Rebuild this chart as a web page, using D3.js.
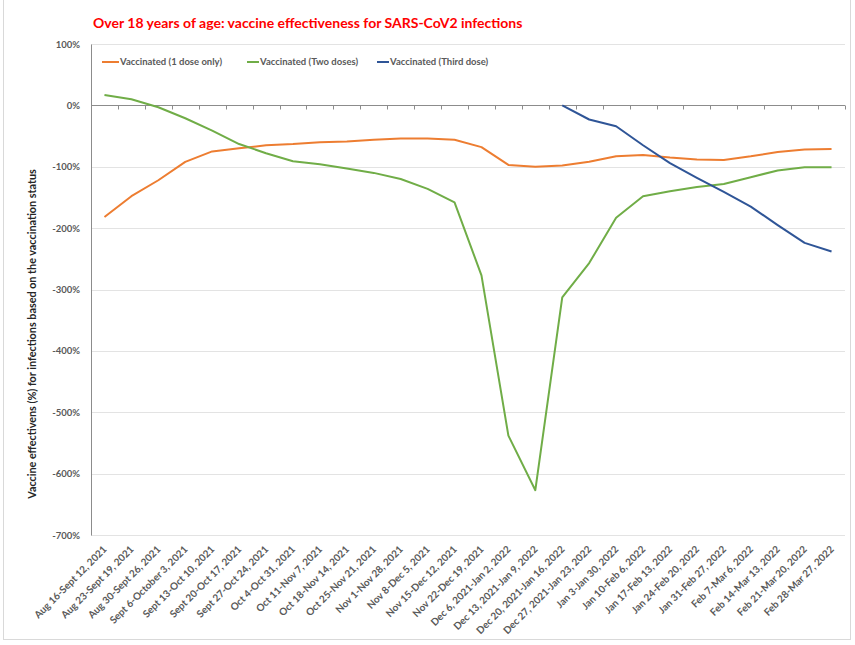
<!DOCTYPE html>
<html>
<head>
<meta charset="utf-8">
<script src="https://cdn.jsdelivr.net/npm/d3@7"></script>
<style>
  body { margin: 0; background: #fff; }
  svg { display: block; font-family: Lato, "Open Sans", sans-serif; }
</style>
</head>
<body>
<svg id="chart" width="855" height="645"></svg>
<script>
var width = 855;
var height = 645;

// weekly periods
var periods = [
  "Aug 16-Sept 12, 2021", "Aug 23-Sept 19, 2021", "Aug 30-Sept 26, 2021",
  "Sept 6-October 3, 2021", "Sept 13-Oct 10, 2021", "Sept 20-Oct 17, 2021",
  "Sept 27-Oct 24, 2021", "Oct 4-Oct 31, 2021", "Oct 11-Nov 7, 2021",
  "Oct 18-Nov 14, 2021", "Oct 25-Nov 21, 2021", "Nov 1-Nov 28, 2021",
  "Nov 8-Dec 5, 2021", "Nov 15-Dec 12, 2021", "Nov 22-Dec 19, 2021",
  "Dec 6, 2021-Jan 2, 2022", "Dec 13, 2021-Jan 9, 2022", "Dec 20, 2021-Jan 16, 2022",
  "Dec 27, 2021-Jan 23, 2022", "Jan 3-Jan 30, 2022", "Jan 10-Feb 6, 2022",
  "Jan 17-Feb 13, 2022", "Jan 24-Feb 20, 2022", "Jan 31-Feb 27, 2022",
  "Feb 7-Mar 6, 2022", "Feb 14-Mar 13, 2022", "Feb 21-Mar 20, 2022",
  "Feb 28-Mar 27, 2022"
];

// vaccine effectiveness, %
var oneDose = [-182, -148, -122, -92, -75, -70, -65, -63, -60, -59, -56, -54, -54, -56,
  -68, -97, -100, -98, -92, -83, -81, -85, -88, -89, -83, -76, -72, -71];
var twoDoses = [17, 10, -3, -21, -41, -63, -78, -91, -96, -103, -110, -120, -136, -158,
  -277, -538, -627, -313, -257, -183, -148, -140, -133, -128, -117, -106, -101, -101];
var thirdDose = [null, null, null, null, null, null, null, null, null, null, null, null, null, null,
  null, null, null, 0, -23, -34, -65, -94, -118, -141, -165, -195, -224, -238];

var yTicks = [100, 0, -100, -200, -300, -400, -500, -600, -700];

var seriesNames = ["Vaccinated (1 dose only)", "Vaccinated (Two doses)", "Vaccinated (Third dose)"];
var seriesColors = ["#ED7D31", "#70AD47", "#2F5597"];

var svg = d3.select("#chart");

var plotLeft = 91, plotRight = 845, plotTop = 44, plotBottom = 535;

var x = d3.scaleBand()
  .domain(periods)
  .range([plotLeft, plotRight])
  .padding(0);

var y = d3.scaleLinear()
  .domain([-700, 100])
  .range([plotBottom, plotTop]);

// outer border
svg.append("rect")
  .attr("x", 3.5).attr("y", -2)
  .attr("width", 847).attr("height", 641.5)
  .attr("fill", "none")
  .attr("stroke", "#d9d9d9");

// title
svg.append("text")
  .attr("x", 93).attr("y", 28)
  .attr("fill", "#FF0000")
  .style("font-size", "14px")
  .style("font-weight", "bold")
  .text("Over 18 years of age: vaccine effectiveness for SARS-CoV2 infections");

// grid
svg.append("g")
  .selectAll("line")
  .data(yTicks)
  .enter().append("line")
  .attr("x1", plotLeft).attr("x2", plotRight)
  .attr("y1", function(d) { return Math.round(y(d)) + 0.5; })
  .attr("y2", function(d) { return Math.round(y(d)) + 0.5; })
  .attr("stroke", "#e3e3e3")
  .attr("stroke-width", 1);

// y axis
var yAxis = svg.append("g")
  .attr("transform", "translate(" + plotLeft + ",0)")
  .call(d3.axisLeft(y).tickValues(yTicks).tickSize(0).tickPadding(11)
    .tickFormat(function(d) { return d + "%"; }));
yAxis.select(".domain").attr("stroke", "#8c8c8c");
yAxis.selectAll("text")
  .attr("fill", "#595959")
  .style("font-size", "9.5px")
  .style("font-weight", "bold")
  .style("font-family", "Lato, sans-serif");

// zero line with category ticks
var zeroY = Math.round(y(0)) + 0.5;
svg.append("line")
  .attr("x1", plotLeft).attr("x2", plotRight)
  .attr("y1", zeroY).attr("y2", zeroY)
  .attr("stroke", "#8c8c8c");

svg.append("g")
  .selectAll("line")
  .data(periods)
  .enter().append("line")
  .attr("x1", function(d) { return Math.round(x(d) + x.step()) + 0.5; })
  .attr("x2", function(d) { return Math.round(x(d) + x.step()) + 0.5; })
  .attr("y1", zeroY).attr("y2", zeroY + 4)
  .attr("stroke", "#8c8c8c");

// x labels at the bottom
var xAxis = svg.append("g")
  .attr("transform", "translate(0," + plotBottom + ")")
  .call(d3.axisBottom(x).tickSize(0));
xAxis.select(".domain").remove();
xAxis.selectAll("text")
  .attr("fill", "#595959")
  .style("font-size", "10px")
  .style("font-weight", "bold")
  .style("font-family", "Lato, sans-serif")
  .style("text-anchor", "end")
  .attr("dy", null)
  .attr("y", 0)
  .attr("transform", "translate(3,15) rotate(-45)");

// y title
svg.append("text")
  .attr("transform", "translate(36,334) rotate(-90)")
  .attr("text-anchor", "middle")
  .attr("fill", "#262626")
  .style("font-size", "10.8px")
  .style("font-weight", "bold")
  .text("Vaccine effectivens (%) for infections based on the vaccination status");

// lines
var line = d3.line()
  .defined(function(d) { return d.v !== null; })
  .x(function(d) { return x(d.p) + x.bandwidth() / 2; })
  .y(function(d) { return y(d.v); });

[oneDose, twoDoses, thirdDose].forEach(function(vals, i) {
  var data = periods.map(function(p, j) { return { p: p, v: vals[j] }; });
  svg.append("path")
    .datum(data)
    .attr("fill", "none")
    .attr("stroke", seriesColors[i])
    .attr("stroke-width", 2)
    .attr("stroke-linejoin", "round")
    .attr("d", line);
});

// legend
var legendX = [102, 247, 377];
var legend = svg.append("g").selectAll("g")
  .data(seriesNames)
  .enter().append("g")
  .attr("transform", function(d, i) { return "translate(" + legendX[i] + ",62)"; });

legend.append("line")
  .attr("x1", 0).attr("x2", function(d, i) { return i === 0 ? 17 : 12; })
  .attr("y1", 0).attr("y2", 0)
  .attr("stroke", function(d, i) { return seriesColors[i]; })
  .attr("stroke-width", 2);

legend.append("text")
  .attr("x", function(d, i) { return i === 0 ? 18 : 13; })
  .attr("y", 3)
  .attr("fill", "#595959")
  .style("font-size", "9.5px")
  .style("font-weight", "bold")
  .text(function(d) { return d; });
</script>
</body>
</html>
